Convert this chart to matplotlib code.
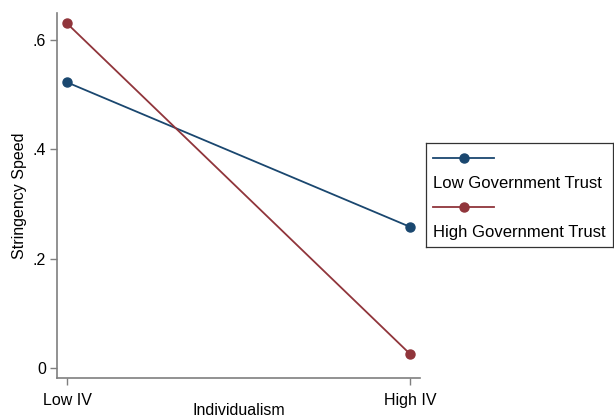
import matplotlib
matplotlib.use("Agg")
import matplotlib.pyplot as plt

categories = ["Low IV", "High IV"]
low_trust = [0.523, 0.258]
high_trust = [0.631, 0.025]
yticks = [0, 0.2, 0.4, 0.6]
ytick_labels = ["0", ".2", ".4", ".6"]
series_labels = ["Low Government Trust", "High Government Trust"]

blue = "#1a476f"
red = "#90353b"
axis_gray = "#7f7f7f"

plt.rcParams['font.family'] = ['Liberation Sans', 'DejaVu Sans']
fig = plt.figure(figsize=(6.14, 4.19), dpi=100)
ax = fig.add_axes([57/614, 1-378/419, (420-57)/614, (378-13)/419])

x = list(range(len(categories)))
ax.plot(x, low_trust, color=blue, lw=1.3, marker='o', ms=6.5, zorder=3)
ax.plot(x, high_trust, color=red, lw=1.3, marker='o', ms=6.5, zorder=3)

ax.set_xlim(-0.029, 1.029)
ax.set_ylim(-0.019, 0.65)
ax.set_xticks(x)
ax.set_xticklabels(categories, fontsize=11.5)
ax.set_yticks(yticks)
ax.set_yticklabels(ytick_labels, fontsize=11.5)
for s in ['top', 'right']:
    ax.spines[s].set_visible(False)
for s in ['left', 'bottom']:
    ax.spines[s].set_color(axis_gray)
    ax.spines[s].set_linewidth(1.2)
ax.tick_params(axis='both', color=axis_gray, length=5, width=1.0)
ax.tick_params(axis='x', pad=6)
ax.tick_params(axis='y', pad=3)
ax.set_xlabel("Individualism", fontsize=11.5, labelpad=-4)
ax.set_ylabel("Stringency Speed", fontsize=11.5, labelpad=4)

# legend box
lax = fig.add_axes([426/614, 1-247/419, 187/614, 104/419])
lax.set_xlim(0, 1); lax.set_ylim(0, 1)
lax.set_xticks([]); lax.set_yticks([])
for s in lax.spines.values():
    s.set_color("#333333"); s.set_linewidth(0.9)
for yl, yt, c, lab in [(0.856, 0.606, blue, series_labels[0]), (0.385, 0.135, red, series_labels[1])]:
    lax.plot([0.037, 0.364], [yl, yl], color=c, lw=1.3)
    lax.plot([0.203], [yl], color=c, marker='o', ms=6.5)
    lax.text(0.037, yt, lab, fontsize=12, va='center', ha='left')

fig.savefig("out.png", dpi=100)
